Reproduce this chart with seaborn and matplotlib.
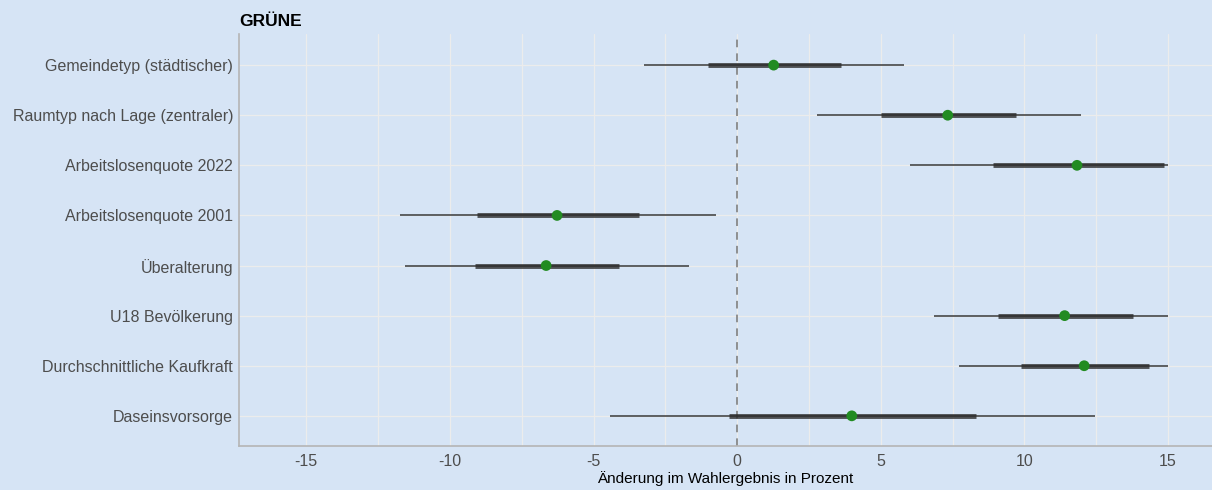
import pandas as pd
import numpy as np
import seaborn as sns
import matplotlib.pyplot as plt
from matplotlib.ticker import MultipleLocator

# Data
variables = ['Gemeindetyp (städtischer)', 'Raumtyp nach Lage (zentraler)',
             'Arbeitslosenquote 2022', 'Arbeitslosenquote 2001', 'Überalterung',
             'U18 Bevölkerung', 'Durchschnittliche Kaufkraft', 'Daseinsvorsorge']
estimate = [1.27, 7.33, 11.83, -6.27, -6.65, 11.40, 12.08, 3.99]
inner_low = [-1.01, 5.02, 8.89, -9.05, -9.14, 9.09, 9.87, -0.28]
inner_high = [3.61, 9.71, 14.86, -3.42, -4.12, 13.78, 14.35, 8.31]
outer_low = [-3.23, 2.77, 6.00, -11.75, -11.56, 6.85, 7.73, -4.43]
outer_high = [5.82, 11.97, 15.00, -0.72, -1.68, 15.00, 15.00, 12.47]

df = pd.DataFrame({'variable': variables, 'estimate': estimate,
                   'inner_low': inner_low, 'inner_high': inner_high,
                   'outer_low': outer_low, 'outer_high': outer_high})

bg = '#d6e4f5'
sns.set_theme(style='whitegrid', rc={'axes.facecolor': bg, 'figure.facecolor': bg,
                                     'grid.color': '#ececec', 'grid.linewidth': 0.9})
plt.rcParams['font.family'] = ['Liberation Sans', 'DejaVu Sans']
plt.rcParams['axes.unicode_minus'] = False

fig = plt.figure(figsize=(12.12, 4.9), dpi=100)
ax = fig.add_axes([0.197, 0.09, 0.803, 0.8405])

pos = np.arange(len(df))
ax.hlines(pos, df['outer_low'], df['outer_high'], color='#2b2b2b', lw=1.2, alpha=0.85, zorder=3)
ax.hlines(pos, df['inner_low'], df['inner_high'], color='#2b2b2b', lw=3.5, alpha=0.8, zorder=3)
sns.scatterplot(data=df, x='estimate', y='variable', color='#228b22', s=60,
                edgecolor='none', zorder=4, ax=ax)

ax.axvline(0, color='#777777', lw=1.1, ls=(0, (5, 4)), zorder=2)

ax.set_xlim(-17.35, 16.53)
ax.set_ylim(7.6, -0.62)
ax.xaxis.set_major_locator(MultipleLocator(5))
ax.xaxis.set_minor_locator(MultipleLocator(2.5))
ax.grid(True, which='both', axis='x', color='#ececec', lw=0.9)
ax.grid(True, axis='y', color='#ececec', lw=0.9)

ax.tick_params(axis='y', colors='#4d4d4d', labelsize=11.5, length=0, pad=4)
ax.tick_params(axis='x', colors='#4d4d4d', labelsize=11.5, length=0, pad=6)
for s in ['top', 'right']:
    ax.spines[s].set_visible(False)
for s in ['left', 'bottom']:
    ax.spines[s].set_visible(True)
    ax.spines[s].set_color('#b5b5b5')
    ax.spines[s].set_linewidth(1.2)

ax.set_ylabel('')
ax.set_xlabel('Änderung im Wahlergebnis in Prozent', fontsize=11, color='black', labelpad=1)
ax.set_title('GRÜNE', loc='left', fontsize=12.5, fontweight='bold', color='black', pad=6)

fig.savefig('out.png', dpi=100, facecolor=bg)
